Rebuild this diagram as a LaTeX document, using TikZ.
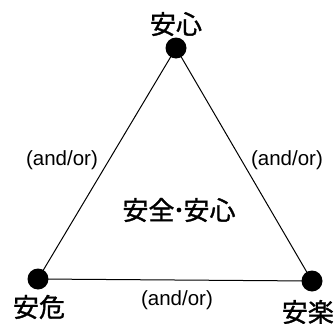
\documentclass[tikz,border=0pt]{standalone}
\usepackage{fontspec}
\setmainfont{Liberation Sans}
\newfontfamily\cjk[FakeBold=1.2]{Noto Sans CJK JP}
\begin{document}
\begin{tikzpicture}[x=1pt,y=-1pt,
  dot/.style={circle,fill=black,minimum size=21pt,inner sep=0pt},
  cjklbl/.style={font=\cjk\fontsize{26}{26}\selectfont,inner sep=0pt},
  andor/.style={font=\fontsize{20.5}{20.5}\selectfont,inner sep=0pt},
  edge/.style={line width=1pt}]
\useasboundingbox (0,0) rectangle (335,324);
\node[dot] (top) at (176,48) {};
\node[dot] (left) at (38,279) {};
\node[dot] (right) at (312,281) {};
\draw[edge] (top.center) -- (left.center) -- (right.center) -- (top.center);
\node[cjklbl] (ltop) at (176,24) {安心};
\node[cjklbl] (lleft) at (39,307) {安危};
\node[cjklbl,anchor=east] (lright) at (334,312) {安楽};
\node[cjklbl] (center) at (179,210) {安全\kern-2pt･\kern-2pt安心};
\node[andor] (al) at (62,160) {(and/or)};
\node[andor] (ar) at (287,160) {(and/or)};
\node[andor] (ab) at (177,300) {(and/or)};
\end{tikzpicture}
\end{document}
